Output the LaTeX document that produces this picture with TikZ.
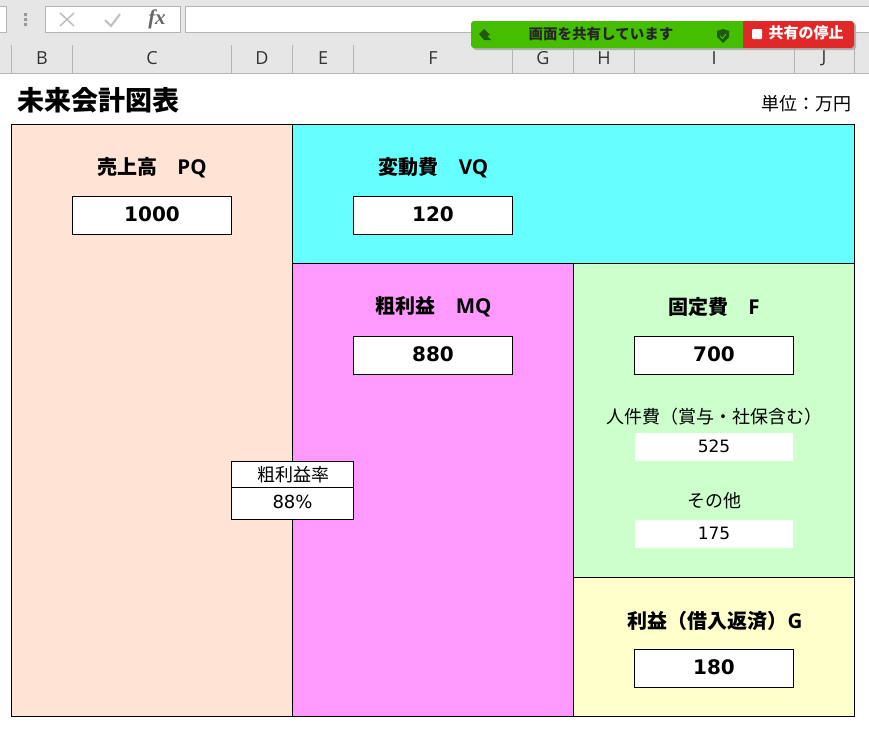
\documentclass[tikz,border=0pt]{standalone}
\usepackage{fontspec}
\setmainfont{Noto Sans CJK JP}
\newfontfamily\numf{DejaVu Sans}
\newfontfamily\colf{Open Sans}
\newfontfamily\fxf{Liberation Serif}
\definecolor{ribbon}{HTML}{E6E6E6}
\definecolor{hdrline}{HTML}{B4B4B4}
\definecolor{peach}{HTML}{FFE4D6}
\definecolor{cyanbox}{HTML}{66FFFF}
\definecolor{magbox}{HTML}{FF99FF}
\definecolor{greenbox}{HTML}{CCFFCC}
\definecolor{yellowbox}{HTML}{FFFFCC}
\definecolor{sharegreen}{HTML}{46BE00}
\definecolor{sharered}{HTML}{E12828}
\definecolor{sharedark}{HTML}{1F5A10}
\newcommand{\lat}[1]{{\colf\fontsize{20.5}{24}\selectfont\bfseries #1}}
\tikzset{
  x=1pt,y=-1pt,
  region/.style={draw=black,line width=0.8pt},
  valbox/.style={draw=black,fill=white,line width=0.8pt,minimum width=159pt,minimum height=38pt,inner sep=0pt,text height=14pt,text depth=3pt,font=\numf\fontsize{20}{24}\selectfont\bfseries},
  subbox/.style={fill=white,minimum width=158pt,minimum height=28pt,inner sep=0pt,text height=12.4pt,text depth=2.4pt,font=\numf\fontsize{17}{20}\selectfont},
  ratebox/.style={draw=black,fill=white,line width=0.8pt,minimum width=122pt,inner sep=0pt},
  head/.style={inner sep=0pt,font=\fontsize{20}{24}\selectfont\bfseries},
  sublabel/.style={inner sep=0pt,font=\fontsize{18}{22}\selectfont},
  colname/.style={inner sep=0pt,font=\colf\fontsize{18}{22}\selectfont,text=black!80},
  hdrsep/.style={draw=hdrline,line width=0.7pt},
  tool/.style={draw=hdrline,fill=white,line width=0.7pt}
}
\begin{document}
\begin{tikzpicture}
\useasboundingbox (0,0) rectangle (869,742);
\fill[white] (0,0) rectangle (869,742);
% ribbon
\fill[ribbon] (0,0) rectangle (869,73);
\draw[tool] (-2,6) rectangle (6,32);
\draw[tool] (45,6) rectangle (180,32);
\draw[tool] (185,6) rectangle (871,32);
\fill[black!40] (24,13) rectangle (27,16) (24,18) rectangle (27,21) (24,23) rectangle (27,26);
\draw[black!25,line width=1.5pt] (60,13) -- (74,26) (74,13) -- (60,26);
\draw[black!25,line width=2pt] (105,20) -- (111,26) -- (120,14);
\node (fx) at (157,19) [inner sep=0pt,font=\fxf\fontsize{21}{24}\selectfont\itshape\bfseries,text=black!60] {fx};
% column heads
\draw[hdrsep] (0,73) -- (869,73);
\foreach \c in {11,72,231,292,353,512,573,634,794,854} {\draw[hdrsep] (\c,45) -- (\c,73);}
\node[colname] (cB) at (42,58) {B};
\node[colname] (cC) at (152,58) {C};
\node[colname] (cD) at (262,58) {D};
\node[colname] (cE) at (323,58) {E};
\node[colname] (cF) at (433,58) {F};
\node[colname] (cG) at (543,58) {G};
\node[colname] (cH) at (604,58) {H};
\node[colname] (cI) at (714,58) {I};
\node[colname] (cJ) at (824,58) {J};
% share bar
\fill[black!30,rounded corners=3pt] (473,23) rectangle (856,50);
\fill[sharegreen,rounded corners=3pt] (471,21) rectangle (750,48);
\fill[sharered,rounded corners=3pt] (745,21) rectangle (854,48);
\fill[sharered] (743,21) rectangle (750,48);
\fill[sharedark] (479,34) -- (484,29) -- (490,35) -- (487,36) -- (491,40) -- (484,40) -- cycle;
\node (share) at (601,33.5) [inner sep=0pt,font=\fontsize{14.5}{18}\selectfont\bfseries,text=black!85] {画面を共有しています};
\fill[sharedark] (717,31) -- (723,29) -- (729,31) -- (729,37) -- (723,43) -- (717,37) -- cycle;
\draw[sharegreen,line width=1pt] (720,36) -- (722.5,38.5) -- (726,34);
\fill[white,rounded corners=1pt] (752,29) rectangle (762,39);
\node (stop) at (806,33) [inner sep=0pt,font=\fontsize{15}{18}\selectfont\bfseries,text=white] {共有の停止};
% title
\node (title) at (98,100) [inner sep=0pt,font=\fontsize{27}{32}\selectfont\bfseries] {未来会計図表};
\node (unit) at (806,104) [inner sep=0pt,font=\fontsize{18}{22}\selectfont] {単位：万円};
% regions
\filldraw[region,fill=peach] (11.5,124.5) rectangle (292.5,716.5);
\filldraw[region,fill=cyanbox] (292.5,124.5) rectangle (854.5,263.5);
\filldraw[region,fill=magbox] (292.5,263.5) rectangle (573.5,716.5);
\filldraw[region,fill=greenbox] (573.5,263.5) rectangle (854.5,577.5);
\filldraw[region,fill=yellowbox] (573.5,577.5) rectangle (854.5,716.5);
% labels and values
\node[head] (pq) at (152,168) {売上高\hspace{1em}\lat{PQ}};
\node[valbox] (pqv) at (152,215.5) {1000};
\node[head] (vq) at (433.5,168) {変動費\hspace{1em}\lat{VQ}};
\node[valbox] (vqv) at (433,215.5) {120};
\node[head] (mq) at (433.7,307) {粗利益\hspace{1em}\lat{MQ}};
\node[valbox] (mqv) at (433,355.5) {880};
\node[head] (f) at (714,307) {固定費\hspace{1em}\lat{F}};
\node[valbox] (fv) at (714,355.5) {700};
\node[sublabel] (lab) at (714,417) {人件費（賞与・社保含む）};
\node[subbox] (labv) at (714,447) {525};
\node[sublabel] (oth) at (714,501) {その他};
\node[subbox] (othv) at (714,534) {175};
\node[head] (g) at (715,621) {利益（借入返済）\lat{G}};
\node[valbox] (gv) at (714,668.5) {180};
% rate
\node[ratebox,minimum height=27pt,font=\fontsize{18}{22}\selectfont] (rt) at (292.5,474.5) {\hspace{1pt}粗利益率};
\node[ratebox,minimum height=32pt,text height=13pt,text depth=3pt,font=\numf\fontsize{18}{22}\selectfont] (rv) at (292.5,503.5) {88\%};
\end{tikzpicture}
\end{document}
